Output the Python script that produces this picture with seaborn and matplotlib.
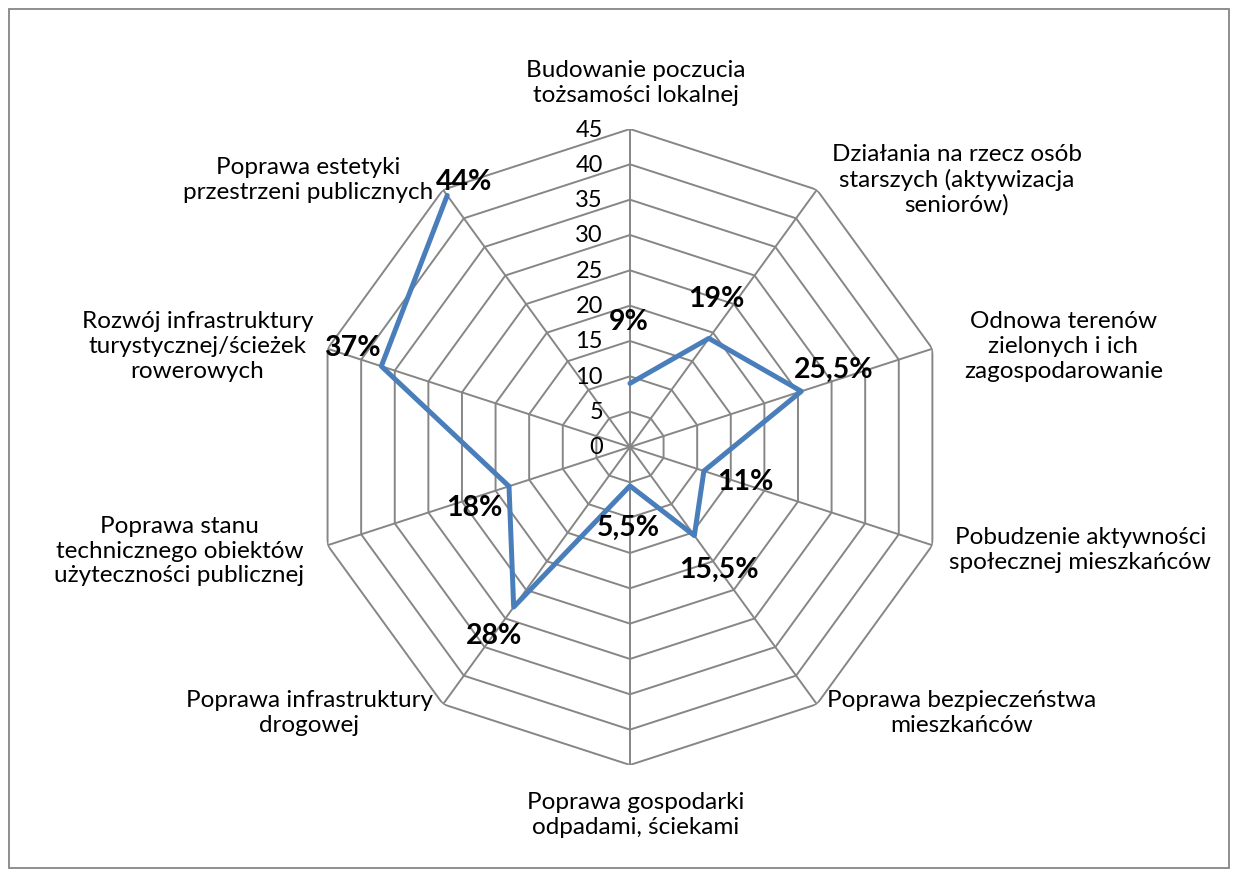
import numpy as np
import matplotlib
matplotlib.use("Agg")
import matplotlib.pyplot as plt
import seaborn as sns
from matplotlib.patches import Rectangle

# data
categories = [
    "Budowanie poczucia\ntożsamości lokalnej",
    "Działania na rzecz osób\nstarszych (aktywizacja\nseniorów)",
    "Odnowa terenów\nzielonych i ich\nzagospodarowanie",
    "Pobudzenie aktywności\nspołecznej mieszkańców",
    "Poprawa bezpieczeństwa\nmieszkańców",
    "Poprawa gospodarki\nodpadami, ściekami",
    "Poprawa infrastruktury\ndrogowej",
    "Poprawa stanu\ntechnicznego obiektów\nużyteczności publicznej",
    "Rozwój infrastruktury\nturystycznej/ścieżek\nrowerowych",
    "Poprawa estetyki\nprzestrzeni publicznych",
]
values = [9, 19, 25.5, 11, 15.5, 5.5, 28, 18, 37, 44]
radial_ticks = [0, 5, 10, 15, 20, 25, 30, 35, 40, 45]

# label placement (pixels from the point / outer vertex)
cat_offsets = [(6, 47), (140, 11), (131, 3), (148, -4), (145, -8),
               (6, -49), (-134, -8), (-148, -5), (-130, 3), (-135, 11)]
val_offsets = [(-1, 62), (7, 40), (32, 22), (41, -10), (25, -33),
               (-2, -41), (-20, -28), (-35, -21), (-29, 19), (17, 14)]

sns.set_theme(style="white")
plt.rcParams["font.family"] = ["Lato", "DejaVu Sans"]

n = len(categories)
theta = np.arange(n) * 2 * np.pi / n
theta_closed = np.append(theta, theta[0])
vals_closed = np.append(values, values[0])
rmax = radial_ticks[-1]

fig = plt.figure(figsize=(12.39, 8.79), dpi=100)
ax = fig.add_axes([0.2518, 0.1286, 0.5133, 0.7235], projection="polar")
ax.set_theta_zero_location("N")
ax.set_theta_direction(-1)
ax.set_ylim(0, rmax)
ax.grid(False)
ax.spines["polar"].set_visible(False)
ax.set_xticks([])
ax.set_yticks([])
ax.patch.set_alpha(0)

grid_color = "#868686"
for r in radial_ticks[1:]:
    ax.plot(theta_closed, [r] * (n + 1), color=grid_color, lw=1.4, zorder=1)
for t in theta:
    ax.plot([t, t], [0, rmax], color=grid_color, lw=1.4, zorder=1)

sns.lineplot(x=theta_closed, y=vals_closed, sort=False, ax=ax,
             color="#4a7ebb", lw=3.6, zorder=3)

for r in radial_ticks:
    ax.annotate(str(r), xy=(0, r), xytext=(-27, 0), textcoords="offset pixels",
                ha="right", va="center", fontsize=17, color="black")

for t, lab, off in zip(theta, categories, cat_offsets):
    ax.annotate(lab, xy=(t, rmax), xytext=off, textcoords="offset pixels",
                ha="center", va="center", multialignment="center",
                fontsize=17.5, color="black", linespacing=1.22, annotation_clip=False)

for t, v, off in zip(theta, values, val_offsets):
    txt = f"{v:g}%".replace(".", ",")
    ax.annotate(txt, xy=(t, v), xytext=off, textcoords="offset pixels",
                ha="center", va="center", fontsize=20.5, fontweight="bold",
                color="black", zorder=4)

fig.patches.append(Rectangle((9 / 1239, 10 / 879), 1220 / 1239, 859 / 879,
                             transform=fig.transFigure, fill=False,
                             edgecolor="#868686", lw=1.3))

fig.savefig("out.png", dpi=100, facecolor="white")
plt.close(fig)
